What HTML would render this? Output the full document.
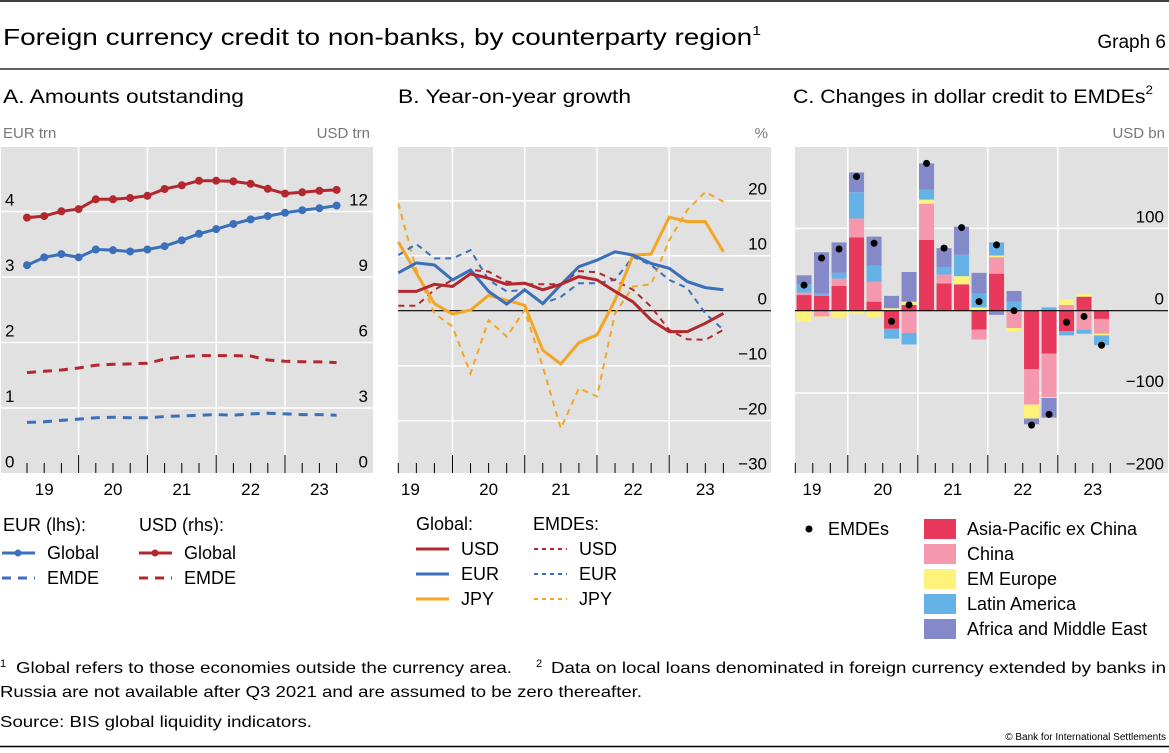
<!DOCTYPE html>
<html><head><meta charset="utf-8"><style>
body{margin:0;background:#fff}
svg text{font-family:"Liberation Sans",sans-serif;fill:#000}
</style></head><body>
<svg id="svg" width="1169" height="748" viewBox="0 0 1169 748" xmlns="http://www.w3.org/2000/svg">
<line x1="0" y1="1" x2="1169" y2="1" stroke="#000" stroke-width="1.5"/>
<text x="3" y="45" font-size="23" textLength="758" lengthAdjust="spacingAndGlyphs">Foreign currency credit to non-banks, by counterparty region<tspan font-size="13" dy="-10">1</tspan></text>
<text x="1166" y="48" font-size="19" text-anchor="end">Graph 6</text>
<line x1="0" y1="69" x2="1169" y2="69" stroke="#000" stroke-width="1.2"/>
<text x="3" y="103" font-size="19" textLength="241" lengthAdjust="spacingAndGlyphs">A. Amounts outstanding</text>
<text x="398" y="103" font-size="19" textLength="233" lengthAdjust="spacingAndGlyphs">B. Year-on-year growth</text>
<text x="793" y="103" font-size="19" textLength="360" lengthAdjust="spacingAndGlyphs">C. Changes in dollar credit to EMDEs<tspan font-size="12" dy="-9">2</tspan></text>
<text x="3" y="138" font-size="15" style="fill:#777">EUR trn</text>
<text x="370" y="138" font-size="15" text-anchor="end" style="fill:#777">USD trn</text>
<text x="768" y="138" font-size="15" text-anchor="end" style="fill:#777">%</text>
<text x="1165" y="138" font-size="15" text-anchor="end" style="fill:#777">USD bn</text>
<g id="pa"></g>
<g id="pb"></g>
<g id="pc"></g>
<g id="legends"></g>
<text x="0" y="667" font-size="11">1</text>
<text x="16" y="673" font-size="16" textLength="496" lengthAdjust="spacingAndGlyphs">Global refers to those economies outside the currency area.</text>
<text x="536" y="667" font-size="11">2</text>
<text x="551" y="673" font-size="16" textLength="615" lengthAdjust="spacingAndGlyphs">Data on local loans denominated in foreign currency extended by banks in</text>
<text x="0" y="697" font-size="16" textLength="642" lengthAdjust="spacingAndGlyphs">Russia are not available after Q3 2021 and are assumed to be zero thereafter.</text>
<text x="0" y="727" font-size="16" textLength="312" lengthAdjust="spacingAndGlyphs">Source: BIS global liquidity indicators.</text>
<text x="1166" y="740" font-size="10" text-anchor="end">© Bank for International Settlements</text>
<line x1="0" y1="746.5" x2="1169" y2="746.5" stroke="#000" stroke-width="1.5"/>
</svg>
<script>
// ---------- data ----------
const yearLabels = ["19","20","21","22","23"];
// Panel A (Q1 2019 - Q3 2023)
const aUsdGlobal = [11.72,11.79,12.01,12.11,12.56,12.56,12.62,12.72,13.03,13.20,13.41,13.41,13.38,13.27,13.04,12.82,12.88,12.95,12.99];
const aEurGlobal = [3.18,3.30,3.35,3.30,3.42,3.41,3.39,3.42,3.47,3.56,3.66,3.73,3.81,3.88,3.93,3.98,4.02,4.05,4.09];
const aUsdEmde = [4.62,4.68,4.74,4.83,4.96,5.00,5.02,5.05,5.24,5.35,5.40,5.40,5.40,5.38,5.20,5.14,5.12,5.11,5.08];
const aEurEmde = [0.78,0.79,0.81,0.83,0.85,0.86,0.85,0.85,0.87,0.88,0.89,0.90,0.89,0.91,0.92,0.91,0.90,0.90,0.89];
const aLeftTicks = [0,1,2,3,4];
const aRightTicks = [0,3,6,9,12];
// Panel B (Q1 2019 - Q3 2023), %
const bUsdGlobal = [3.5,3.5,4.8,4.4,6.7,5.9,4.8,5.0,3.8,4.8,6.2,5.6,3.5,1.6,-1.7,-3.8,-3.8,-2.3,-0.5];
const bEurGlobal = [6.9,8.7,8.3,5.6,7.4,3.5,1.2,3.8,1.3,4.7,8.0,9.2,10.7,10.1,8.6,7.7,5.3,4.2,3.8];
const bJpyGlobal = [12.5,6.8,1.3,-0.6,0.1,2.8,1.9,1.0,-7.2,-9.7,-5.8,-4.4,1.9,10.1,10.3,17.0,16.2,16.2,10.7];
const bUsdEmde = [0.9,0.9,3.8,5.6,7.4,7.1,5.3,4.8,4.8,4.8,7.2,7.0,5.5,3.8,0.7,-3.5,-5.2,-5.3,-3.5];
const bEurEmde = [10.1,12.1,9.5,9.5,11.0,5.6,3.5,3.8,1.3,2.5,5.0,5.0,5.6,9.8,8.3,5.6,4.1,-0.5,-3.5];
const bJpyEmde = [19.5,7.4,-0.5,-2.9,-11.4,-1.7,-4.7,0.1,-10.2,-21.4,-14.1,-15.6,-0.5,4.4,4.8,12.8,18.3,21.6,19.8];
const bTicks = [-30,-20,-10,0,10,20];
// Panel C (Q2 2019 - Q3 2023), USD bn
const cAsia  = [19,18,30,89,11,-22,7,86,33,32,-23,45,0,-71,-52,-25,17,-10];
const cChina = [3,-7,9,23,24,0,-27,44,11,0,-12,20,-21,-43,-53,7,-23,-18];
const cEmEur = [-13,-1,-9,-4,-8,3,4,5,0,10,4,2,-4,-17,-1,7,3,-2];
const cLatam = [10,3,7,32,20,-12,-14,12,9,26,17,16,11,0,4,-5,-5,-12];
const cAfme  = [11,50,37,24,35,15,36,32,23,34,25,-5,13,-7,-24,0,0,0];
const cTotal = [31,64,75,163,82,-13,7,179,76,101,11,80,0,-139,-126,-14,-7,-42];
const cTicks = [-200,-100,0,100];

const NS="http://www.w3.org/2000/svg";
function el(parent,tag,attrs){const e=document.createElementNS(NS,tag);for(const k in attrs)e.setAttribute(k,attrs[k]);parent.appendChild(e);return e;}
function txt(parent,x,y,s,attrs){const e=el(parent,'text',Object.assign({x:x,y:y,'font-size':17},attrs||{}));e.textContent=s;return e;}
function pts(arr,xf,yf){return arr.map((v,i)=>xf(i).toFixed(1)+','+yf(v).toFixed(1)).join(' ');}

const TOP=147,BOT=473;
// ---------- Panel A ----------
(function(){
const g=document.getElementById('pa');
const L=1,R=373,qw=17.2,x0=27;
const yE=v=>473.5-v*65.5, yU=v=>yE(v/3), xq=i=>x0+i*qw;
const bg=el(g,'rect',{x:L,y:TOP,width:R-L,height:BOT-TOP,fill:'#e1e1e1'});


aLeftTicks.forEach(t=>{ if(t>0){const l=el(g,'line',{x1:L,x2:R,y1:yE(t),y2:yE(t),stroke:'#fff','stroke-width':1.5});

}
const a=txt(g,5,yE(t)-6,String(t));

});
aRightTicks.forEach(t=>{const a=txt(g,368,yU(t)-6,String(t),{'text-anchor':'end'});

});
for(let y=0;y<5;y++){const xb=xq(3)+(y-1)*4*qw;
 if(y<4){const l=el(g,'line',{x1:xb+4*qw,x2:xb+4*qw,y1:TOP,y2:BOT,stroke:'#fff','stroke-width':1.5});
 
 }
 const lab=txt(g,xb+2*qw,495,yearLabels[y],{'text-anchor':'middle'});
 
 }
for(let i=0;i<19;i++){const maj=(i%4===3);el(g,'line',{x1:xq(i),x2:xq(i),y1:maj?455:463,y2:BOT,stroke:'#000','stroke-width':1});}
const s1=el(g,'polyline',{points:pts(aUsdEmde,xq,yU),fill:'none',stroke:'#b2282e','stroke-width':3,'stroke-dasharray':'9,7'});


const s2=el(g,'polyline',{points:pts(aEurEmde,xq,yE),fill:'none',stroke:'#3a6fba','stroke-width':3,'stroke-dasharray':'9,7'});


[[aUsdGlobal,yU,'#b2282e','usd-global'],[aEurGlobal,yE,'#3a6fba','eur-global']].forEach(([arr,yf,c,n])=>{
 const p=el(g,'polyline',{points:pts(arr,xq,yf),fill:'none',stroke:c,'stroke-width':3});
 
 
 arr.forEach((v,i)=>{const m=el(g,'circle',{cx:xq(i),cy:yf(v),r:4,fill:c});
 
 });
});
})();
// ---------- Panel B ----------
(function(){
const g=document.getElementById('pb');
const L=398,R=771,qw=18.06,x0=398.3;
const y=v=>310.7-v*5.5, xq=i=>x0+i*qw;
const bg=el(g,'rect',{x:L,y:TOP,width:R-L,height:BOT-TOP,fill:'#e1e1e1'});


bTicks.forEach(t=>{ if(t!==0&&t>-30){const l=el(g,'line',{x1:L,x2:R,y1:y(t),y2:y(t),stroke:'#fff','stroke-width':1.5});
 
 }
 const a=txt(g,767,y(t)-6,(t<0?'\u2212'+(-t):String(t)),{'text-anchor':'end'});
 
 });
for(let k=0;k<5;k++){const xb=xq(3)+(k-1)*4*qw;
 if(k<4){const l=el(g,'line',{x1:xb+4*qw,x2:xb+4*qw,y1:TOP,y2:BOT,stroke:'#fff','stroke-width':1.5});
 
 }
 const lab=txt(g,xb+2*qw+(k===0?-6:0),495,yearLabels[k],{'text-anchor':'middle'});
 
 }
for(let i=0;i<19;i++){const maj=(i%4===3);el(g,'line',{x1:xq(i),x2:xq(i),y1:maj?455:463,y2:BOT,stroke:'#000','stroke-width':1});}
const z=el(g,'line',{x1:L,x2:R,y1:y(0),y2:y(0),stroke:'#000','stroke-width':1.2});


[[bJpyEmde,'#f2a623','jpy-emde'],[bEurEmde,'#3a6fba','eur-emde'],[bUsdEmde,'#b2282e','usd-emde']].forEach(([a,c,n])=>{
 const p=el(g,'polyline',{points:pts(a,xq,y),fill:'none',stroke:c,'stroke-width':2,'stroke-dasharray':'6,5'});
 
 });
[[bJpyGlobal,'#f2a623','jpy-global'],[bEurGlobal,'#3a6fba','eur-global'],[bUsdGlobal,'#b2282e','usd-global']].forEach(([a,c,n])=>{
 const p=el(g,'polyline',{points:pts(a,xq,y),fill:'none',stroke:c,'stroke-width':3});
 
 });
})();
// ---------- Panel C ----------
(function(){
const g=document.getElementById('pc');
const L=795,R=1168,qw=17.5,b0=795.3;
const y=v=>310.7-v*0.823, xc=i=>b0+(i+0.5)*qw;
const bg=el(g,'rect',{x:L,y:TOP,width:R-L,height:BOT-TOP,fill:'#e1e1e1'});


cTicks.forEach(t=>{ if(t!==0&&t>-200){const l=el(g,'line',{x1:L,x2:R,y1:y(t),y2:y(t),stroke:'#fff','stroke-width':1.5});
 
 }
 const a=txt(g,1164,y(t)-6,(t<0?'\u2212'+(-t):String(t)),{'text-anchor':'end'});
 
 });
for(let k=0;k<5;k++){const xb=b0+3*qw+(k-1)*4*qw;
 if(k<4){const l=el(g,'line',{x1:xb+4*qw,x2:xb+4*qw,y1:TOP,y2:BOT,stroke:'#fff','stroke-width':1.5});
 
 }
 const lab=txt(g,k===0?812:xb+2*qw,495,yearLabels[k],{'text-anchor':'middle'});
 
 }
for(let i=0;i<=18;i++){const maj=(i%4===3);el(g,'line',{x1:b0+i*qw,x2:b0+i*qw,y1:maj?455:463,y2:BOT,stroke:'#000','stroke-width':1});}
const series=[[cAsia,'#e8385c','asia-pacific-ex-china'],[cChina,'#f598ae','china'],[cEmEur,'#fdf27a','em-europe'],[cLatam,'#65b3e6','latin-america'],[cAfme,'#8489c9','africa-middle-east']];
for(let i=0;i<cTotal.length;i++){let pos=0,neg=0;
 series.forEach(([a,c,n])=>{const v=a[i];let y0,y1;
  if(v>=0){y0=pos;pos+=v;y1=pos;}else{y0=neg;neg+=v;y1=neg;}
  if(v===0)return;
  const r=el(g,'rect',{x:xc(i)-7.5,width:15,y:Math.min(y(y0),y(y1)),height:Math.abs(y(y1)-y(y0)),fill:c});
  
  });
}
const z=el(g,'line',{x1:L,x2:R,y1:y(0),y2:y(0),stroke:'#000','stroke-width':1.2});


cTotal.forEach((v,i)=>{const d=el(g,'circle',{cx:xc(i),cy:y(v),r:3.5,fill:'#000'});
 
 });
})();
// ---------- Legends ----------
(function(){
const g=document.getElementById('legends');
const FS=18;
function line(x,yy,c,dash,w,dot,name,label){
 const l=el(g,'line',{x1:x,x2:x+33,y1:yy-6,y2:yy-6,stroke:c,'stroke-width':w});
 if(dash)l.setAttribute('stroke-dasharray',dash);
 if(dot)el(g,'circle',{cx:x+16,cy:yy-6,r:3.5,fill:c});
 const t=txt(g,x+45,yy,label,{'font-size':FS});
 
 }
let t=txt(g,3,531,'EUR (lhs):',{'font-size':FS});
t=txt(g,139,531,'USD (rhs):',{'font-size':FS});
line(2,559,'#3a6fba',null,3,true,'legend-eur-global','Global');
line(2,584,'#3a6fba','9,7',3,false,'legend-eur-emde','EMDE');
line(139,559,'#b2282e',null,3,true,'legend-usd-global','Global');
line(139,584,'#b2282e','9,7',3,false,'legend-usd-emde','EMDE');
t=txt(g,416,530,'Global:',{'font-size':FS});
t=txt(g,533,530,'EMDEs:',{'font-size':FS});
line(416,555,'#b2282e',null,3,false,'legend-usd-global-b','USD');
line(416,580,'#3a6fba',null,3,false,'legend-eur-global-b','EUR');
line(416,605,'#f2a623',null,3,false,'legend-jpy-global-b','JPY');
line(534,555,'#b2282e','4,4',2,false,'legend-usd-emde-b','USD');
line(534,580,'#3a6fba','4,4',2,false,'legend-eur-emde-b','EUR');
line(534,605,'#f2a623','4,4',2,false,'legend-jpy-emde-b','JPY');
el(g,'circle',{cx:809,cy:529,r:3.5,fill:'#000'});
t=txt(g,828,535,'EMDEs',{'font-size':FS});
const items=[['#e8385c','Asia-Pacific ex China'],['#f598ae','China'],['#fdf27a','EM Europe'],['#65b3e6','Latin America'],['#8489c9','Africa and Middle East']];
items.forEach(([c,s],k)=>{const yy=535+k*25;
 el(g,'rect',{x:924,y:yy-16,width:32,height:20,fill:c});
 const tt=txt(g,967,yy,s,{'font-size':FS});
 
 });
})();
</script>
</body></html>
